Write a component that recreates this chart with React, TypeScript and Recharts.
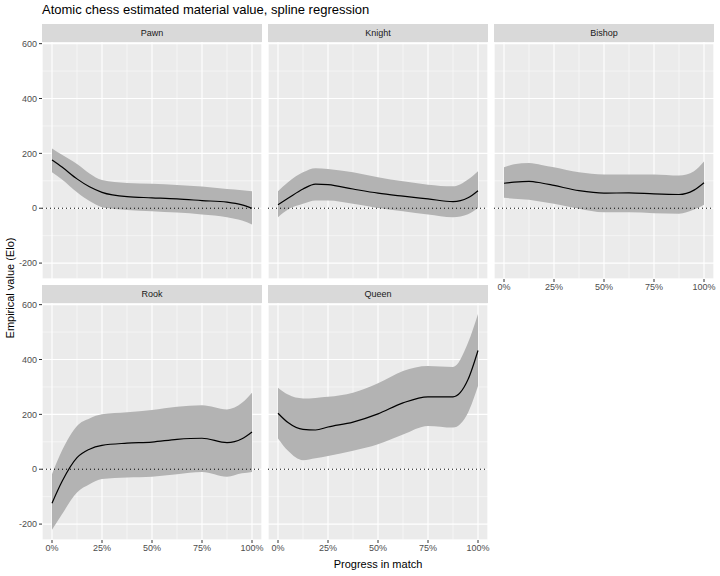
import { ComposedChart, Area, Line, XAxis, YAxis, CartesianGrid, ReferenceLine } from 'recharts';

// progress through the match (share of moves played)
const progress = [0, 0.05, 0.125, 0.1875, 0.25, 0.375, 0.5, 0.625, 0.75, 0.875, 0.95, 1];

const pawnFit = [176, 150, 107, 78, 58, 42, 38, 34, 28, 22, 12, 0];
const pawnUpper = [218, 195, 161, 127, 103, 92, 89, 85, 79, 70, 66, 62];
const pawnLower = [131, 105, 58, 26, 4, -6, -11, -16, -23, -33, -45, -59];

const knightFit = [13, 36, 70, 88, 86, 70, 55, 44, 34, 24, 38, 64];
const knightUpper = [62, 95, 131, 146, 143, 131, 113, 98, 86, 80, 105, 135];
const knightLower = [-33, -5, 16, 28, 28, 16, 1, -11, -23, -33, -22, 1];

const bishopFit = [91, 95, 98, 92, 83, 64, 55, 56, 52, 50, 66, 93];
const bishopUpper = [149, 160, 165, 158, 149, 131, 123, 123, 123, 119, 135, 170];
const bishopLower = [38, 35, 31, 24, 16, -2, -15, -15, -18, -20, -5, 13];

const rookFit = [-124, -45, 42, 73, 87, 95, 99, 109, 113, 97, 111, 136];
const rookUpper = [-18, 68, 158, 185, 200, 208, 216, 228, 233, 218, 242, 279];
const rookLower = [-221, -164, -85, -55, -36, -30, -27, -18, -10, -27, -15, -10];

const queenFit = [204, 170, 145, 143, 154, 172, 202, 242, 264, 264, 327, 433];
const queenUpper = [297, 272, 258, 260, 264, 279, 313, 358, 376, 373, 461, 566];
const queenLower = [112, 67, 33, 40, 48, 67, 91, 127, 158, 152, 206, 303];

const xTicks = [0, 0.25, 0.5, 0.75, 1];
const xMinorTicks = [0.125, 0.375, 0.625, 0.875];
const yTicks = [-200, 0, 200, 400, 600];
const yMinorTicks = [-100, 100, 300, 500];

const X_DOMAIN = [-0.05, 1.05];
const Y_DOMAIN = [-258, 606];
const PW = 220;
const PH = 237;
const PAD_TOP = 6;
const PAD_RIGHT = 14;
const FONT = '"Liberation Sans", Arial, sans-serif';

const tickStyle = { fill: '#4D4D4D', fontSize: 9, fontFamily: FONT };

function Panel({ name, fit, lower, upper, left, top, showX, showY }) {
  const data = progress.map((p, i) => ({ p, fit: fit[i], band: [lower[i], upper[i]] }));
  const yw = showY ? 36 : 0;
  const xh = showX ? 20 : 0;
  return (
    <div style={{ position: 'absolute', left: left - yw, top }}>
      <div style={{ position: 'absolute', left: 0, top: 18 - PAD_TOP }}>
        <ComposedChart
          width={PW + yw + PAD_RIGHT}
          height={PH + xh + PAD_TOP}
          data={data}
          margin={{ top: PAD_TOP, right: PAD_RIGHT, bottom: 0, left: 0 }}
        >
          <XAxis xAxisId="minor" dataKey="p" type="number" domain={X_DOMAIN} ticks={xMinorTicks} allowDataOverflow hide />
          <YAxis yAxisId="minor" type="number" domain={Y_DOMAIN} ticks={yMinorTicks} allowDataOverflow hide />
          <XAxis
            xAxisId="major"
            dataKey="p"
            type="number"
            domain={X_DOMAIN}
            ticks={xTicks}
            allowDataOverflow
            hide={!showX}
            height={20}
            axisLine={false}
            tickSize={3}
            tickLine={{ stroke: '#333333' }}
            tick={tickStyle}
            tickFormatter={(v) => `${Math.round(v * 100)}%`}
            interval={0}
          />
          <YAxis
            yAxisId="major"
            type="number"
            domain={Y_DOMAIN}
            ticks={yTicks}
            allowDataOverflow
            hide={!showY}
            width={36}
            axisLine={false}
            tickSize={3}
            tickLine={{ stroke: '#333333' }}
            tick={tickStyle}
            interval={0}
          />
          <CartesianGrid xAxisId="minor" yAxisId="minor" fill="#EBEBEB" stroke="#FFFFFF" strokeWidth={0.5} />
          <CartesianGrid xAxisId="major" yAxisId="major" stroke="#FFFFFF" strokeWidth={1.1} />
          <Area
            xAxisId="major"
            yAxisId="major"
            dataKey="band"
            type="monotone"
            fill="#B3B3B3"
            fillOpacity={1}
            stroke="none"
            isAnimationActive={false}
          />
          <Line
            xAxisId="major"
            yAxisId="major"
            dataKey="fit"
            type="monotone"
            stroke="#000000"
            strokeWidth={1.2}
            dot={false}
            isAnimationActive={false}
          />
          <ReferenceLine xAxisId="major" yAxisId="major" y={0} stroke="#000000" strokeDasharray="1 3" strokeWidth={1} />
        </ComposedChart>
      </div>
      <div
        style={{
          position: 'absolute',
          left: yw,
          top: 0,
          width: PW,
          height: 18,
          lineHeight: '18px',
          background: '#D9D9D9',
          color: '#1A1A1A',
          fontSize: 9,
          textAlign: 'center',
        }}
      >
        {name}
      </div>
    </div>
  );
}

export default function App() {
  return (
    <div style={{ position: 'absolute', left: 0, top: 0, width: 720, height: 576, background: '#FFFFFF', fontFamily: FONT }}>
      <div style={{ position: 'absolute', left: 42, top: 2, fontSize: 13, lineHeight: '16px', color: '#000' }}>
        Atomic chess estimated material value, spline regression
      </div>
      <Panel name="Pawn" fit={pawnFit} lower={pawnLower} upper={pawnUpper} left={42} top={24} showY showX={false} />
      <Panel name="Knight" fit={knightFit} lower={knightLower} upper={knightUpper} left={268} top={24} showY={false} showX={false} />
      <Panel name="Bishop" fit={bishopFit} lower={bishopLower} upper={bishopUpper} left={494} top={24} showY={false} showX />
      <Panel name="Rook" fit={rookFit} lower={rookLower} upper={rookUpper} left={42} top={285} showY showX />
      <Panel name="Queen" fit={queenFit} lower={queenLower} upper={queenUpper} left={268} top={285} showY={false} showX />
      <div
        style={{
          position: 'absolute',
          left: 10,
          top: 288,
          transform: 'translate(-50%, -50%) rotate(-90deg)',
          whiteSpace: 'nowrap',
          fontSize: 11,
          color: '#000',
        }}
      >
        Empirical value (Elo)
      </div>
      <div
        style={{
          position: 'absolute',
          left: 378,
          top: 564,
          transform: 'translate(-50%, -50%)',
          whiteSpace: 'nowrap',
          fontSize: 11,
          color: '#000',
        }}
      >
        Progress in match
      </div>
    </div>
  );
}
